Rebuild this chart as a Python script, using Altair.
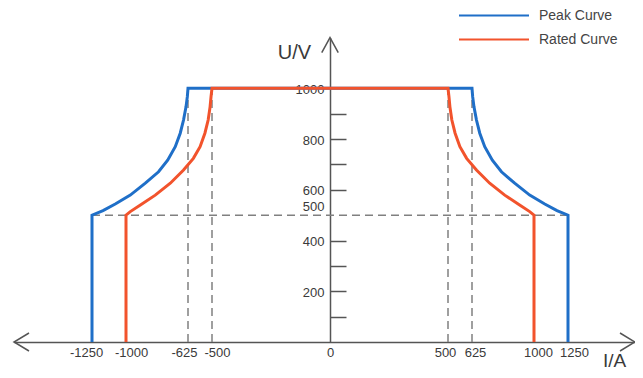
import altair as alt
import pandas as pd

# ---------------- data ----------------
x_domain = [-1500, -1250, -1000, -625, -500, 0, 500, 625, 1000, 1250, 1500]
x_range = [6, 84, 118, 180, 204, 322, 440, 464, 526, 560, 627]
x_labels = [-1250, -1000, -625, -500, 0, 500, 625, 1000, 1250]
y_labels = [200, 400, 500, 600, 800, 1000]
y_ticks = [100, 200, 300, 400, 600, 700, 800, 900]

peak_I = [-1250, -1250, -1169, -1079, -974, -883, -803, -748, -702, -672, -652, -637, -629, -625,
          625, 629, 637, 652, 672, 702, 748, 803, 883, 974, 1079, 1169, 1250, 1250]
peak_U = [0, 500, 518, 544, 579, 626, 671, 717, 770, 823, 875, 927, 967, 1000,
          1000, 967, 927, 875, 823, 770, 717, 671, 626, 579, 544, 518, 500, 0]

rated_I = [-1000, -1000, -974, -913, -823, -732, -652, -597, -562, -537, -520, -510, -505, -500,
           500, 505, 510, 520, 537, 562, 597, 652, 732, 823, 913, 974, 1000, 1000]
rated_U = [0, 500, 514, 540, 579, 626, 678, 724, 770, 823, 875, 927, 967, 1000,
           1000, 967, 927, 875, 823, 770, 724, 678, 626, 579, 540, 514, 500, 0]

series_names = ["Peak Curve", "Rated Curve"]
series_colors = ["#1f6fc8", "#f2532c"]

dash_v_I = [-625, -500, 500, 625]
dash_v_bottom = [0, 0, 0, 0]
dash_v_top = [1000, 1000, 1000, 1000]
dash_h_I0 = [-1250]
dash_h_I1 = [1250]
dash_h_U = [500]

arrow_I = [-1500, 1500, 0]
arrow_U = [0, 0, 1200]
arrow_dir = ["left", "right", "up"]
arrow_paths = ["M 1 -0.6 L 0 0 L 1 0.6",
               "M -1 -0.6 L 0 0 L -1 0.6",
               "M -0.55 1 L 0 0 L 0.55 1"]

FONT = "Liberation Sans"
AXIS_COLOR = "#555555"
TEXT_COLOR = "#3a3a3a"

# ---------------- tables ----------------
peak_df = pd.DataFrame({"I": peak_I, "U": peak_U, "series": "Peak Curve",
                        "k": list(range(len(peak_I)))})
rated_df = pd.DataFrame({"I": rated_I, "U": rated_U, "series": "Rated Curve",
                         "k": list(range(len(rated_I)))})
dv_df = pd.DataFrame({"I": dash_v_I, "U": dash_v_bottom, "U2": dash_v_top})
dh_df = pd.DataFrame({"I": dash_h_I0, "I2": dash_h_I1, "U": dash_h_U})
arrow_df = pd.DataFrame({"I": arrow_I, "U": arrow_U, "dir": arrow_dir})

xs = alt.Scale(domain=x_domain, range=x_range, nice=False, zero=False)
ys = alt.Scale(domain=[0, 1200], range=[326, 21.6], nice=False, zero=False)
cs = alt.Scale(domain=series_names, range=series_colors)

x_label_shift = {"condition": [
    {"test": "datum.value == -1250", "value": -6},
    {"test": "datum.value == -1000", "value": 5},
    {"test": "datum.value == -625", "value": -4},
    {"test": "datum.value == -500", "value": 5},
    {"test": "datum.value == 500", "value": -3},
    {"test": "datum.value == 625", "value": 3},
    {"test": "datum.value == 1000", "value": 4},
    {"test": "datum.value == 1250", "value": 6},
], "value": 0}

x_axis = alt.Axis(
    values=x_labels, ticks=False, tickSize=0, labelPadding=4, grid=False,
    labelExpr="'' + datum.value", labelOffset=x_label_shift,
    labelFontSize=13, labelFont=FONT, labelColor=TEXT_COLOR,
    labelOverlap=False, labelFlush=False,
    domainColor=AXIS_COLOR, domainWidth=1.5,
    title="I/A", titleX=606, titleY=24, titleAlign="center",
    titleBaseline="alphabetic", titleFontSize=19, titleFontWeight="normal",
    titleFont=FONT, titleColor=TEXT_COLOR,
)

y_axis_left = alt.Axis(
    orient="left", offset=-322, values=y_labels, ticks=False, tickSize=0,
    labelPadding=6, grid=False, labelFontSize=13, labelFont=FONT,
    labelExpr="'' + datum.value",
    labelColor=TEXT_COLOR, labelOverlap=False, labelFlush=False,
    labelOffset={"condition": {"test": "datum.value == 500", "value": -9}, "value": 1},
    domainColor=AXIS_COLOR, domainWidth=1.5,
    title="U/V", titleAngle=0, titleX=-36, titleY=36.5, titleAlign="center",
    titleBaseline="middle", titleFontSize=20, titleFontWeight="normal",
    titleFont=FONT, titleColor=TEXT_COLOR,
)

y_axis_right = alt.Axis(
    orient="right", offset=-305, values=y_ticks, labels=False, domain=False,
    ticks=True, tickSize=16, tickWidth=1.5, tickColor=AXIS_COLOR,
    grid=False, title=None,
)

dash_v = alt.Chart(dv_df).mark_rule(
    color="#808080", strokeWidth=1.5, strokeDash=[8, 5]
).encode(
    x=alt.X("I:Q", scale=xs, axis=x_axis),
    y=alt.Y("U:Q", scale=ys, axis=y_axis_right),
    y2="U2:Q",
)

dash_h = alt.Chart(dh_df).mark_rule(
    color="#808080", strokeWidth=1.5, strokeDash=[8, 5]
).encode(
    x=alt.X("I:Q", scale=xs),
    x2="I2:Q",
    y=alt.Y("U:Q", scale=ys, axis=None),
)

legend = alt.Legend(
    orient="none", legendX=450, legendY=-8.5, title=None,
    symbolType="stroke", symbolSize=4900, symbolStrokeWidth=2,
    clipHeight=16, rowPadding=8, labelFontSize=14, labelFont=FONT,
    labelColor="#444444", labelOffset=9, padding=0,
)

peak_line = alt.Chart(peak_df).mark_line(strokeWidth=3, strokeJoin="miter").encode(
    x=alt.X("I:Q", scale=xs),
    y=alt.Y("U:Q", scale=ys, axis=y_axis_left),
    color=alt.Color("series:N", scale=cs, legend=legend),
    order="k:Q",
)

rated_line = alt.Chart(rated_df).mark_line(strokeWidth=3, strokeJoin="miter").encode(
    x=alt.X("I:Q", scale=xs),
    y=alt.Y("U:Q", scale=ys, axis=None),
    color=alt.Color("series:N", scale=cs),
    order="k:Q",
)

arrows = alt.Chart(arrow_df).mark_point(
    filled=False, size=900, strokeWidth=1.5, color=AXIS_COLOR, opacity=1
).encode(
    x=alt.X("I:Q", scale=xs),
    y=alt.Y("U:Q", scale=ys, axis=None),
    shape=alt.Shape("dir:N", scale=alt.Scale(domain=arrow_dir, range=arrow_paths), legend=None),
)

chart = alt.layer(dash_v, dash_h, peak_line, rated_line, arrows).resolve_axis(
    y="independent"
).properties(
    width=627, height=326,
    autosize=alt.AutoSizeParams(type="none"),
    padding={"left": 0, "right": 0, "top": 8, "bottom": 28},
    background="white",
).configure_view(stroke=None)

chart.save("out.html", embed_options={"renderer": "svg", "actions": False})
